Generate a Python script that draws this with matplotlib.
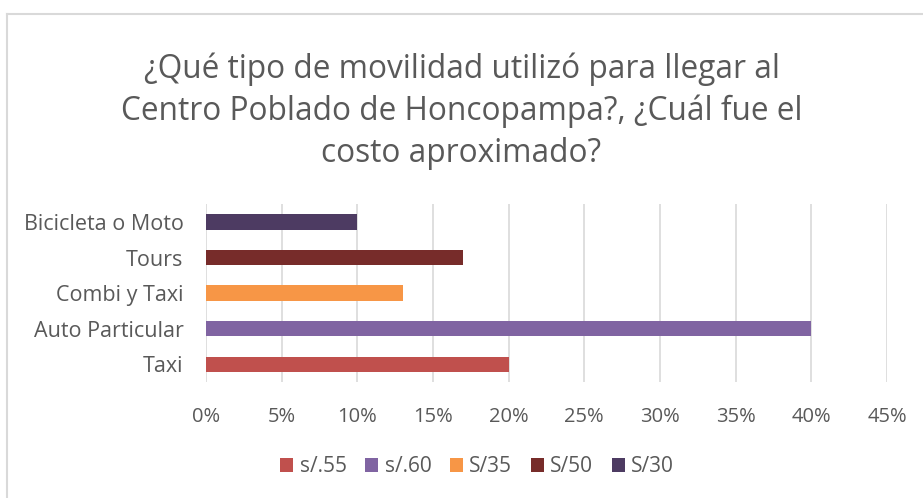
import matplotlib.pyplot as plt
from matplotlib.lines import Line2D

categories = ["Taxi", "Auto Particular", "Combi y Taxi", "Tours", "Bicicleta o Moto"]
values = [20, 40, 13, 17, 10]
series_labels = ["s/.55", "s/.60", "S/35", "S/50", "S/30"]
colors = ["#C0504D", "#8064A2", "#F79646", "#772C2A", "#4D3B62"]
ticks = list(range(0, 50, 5))

plt.rcParams["font.family"] = ["Open Sans", "DejaVu Sans"]
text_color = "#595959"

fig = plt.figure(figsize=(9.23, 4.98), dpi=100)
ax = fig.add_axes([0.223, 0.233, 0.738, 0.357])

for i, (cat, val, lab, col) in enumerate(zip(categories, values, series_labels, colors)):
    ax.barh(i, val, height=0.43, color=col, label=lab, zorder=3)

ax.set_xlim(0, 45)
ax.set_ylim(-0.5, len(categories) - 0.5)
ax.set_xticks(ticks)
ax.set_xticklabels([f"{t}%" for t in ticks])
ax.set_yticks(range(len(categories)))
ax.set_yticklabels(categories)
ax.grid(axis="x", color="#D9D9D9", linewidth=1.2, zorder=0)
for s in ax.spines.values():
    s.set_visible(False)
ax.tick_params(axis="both", length=0, colors=text_color, labelsize=14.5)
ax.tick_params(axis="y", labelsize=15.5, pad=16)
ax.tick_params(axis="x", pad=18)

fig.suptitle(
    "¿Qué tipo de movilidad utilizó para llegar al\nCentro Poblado de Honcopampa?, ¿Cuál fue el\ncosto aproximado?",
    x=0.5, y=0.895, fontsize=22.8, color=text_color, linespacing=1.36,
)

handles, labels = ax.get_legend_handles_labels()
fig.legend(
    handles, labels, loc="center", bbox_to_anchor=(0.517, 0.063), ncol=5,
    frameon=False, fontsize=15, labelcolor=text_color,
    handlelength=0.62, handleheight=0.62, handletextpad=0.3, columnspacing=0.9,
)

fig.add_artist(Line2D([0.0076, 1.0], [1 - 14 / 498, 1 - 14 / 498], color="#D9D9D9", linewidth=1.5))
fig.add_artist(Line2D([0.0076, 0.0076], [0.0, 1 - 14 / 498], color="#D9D9D9", linewidth=1.5))

fig.savefig("out.png", dpi=100, facecolor="white")
